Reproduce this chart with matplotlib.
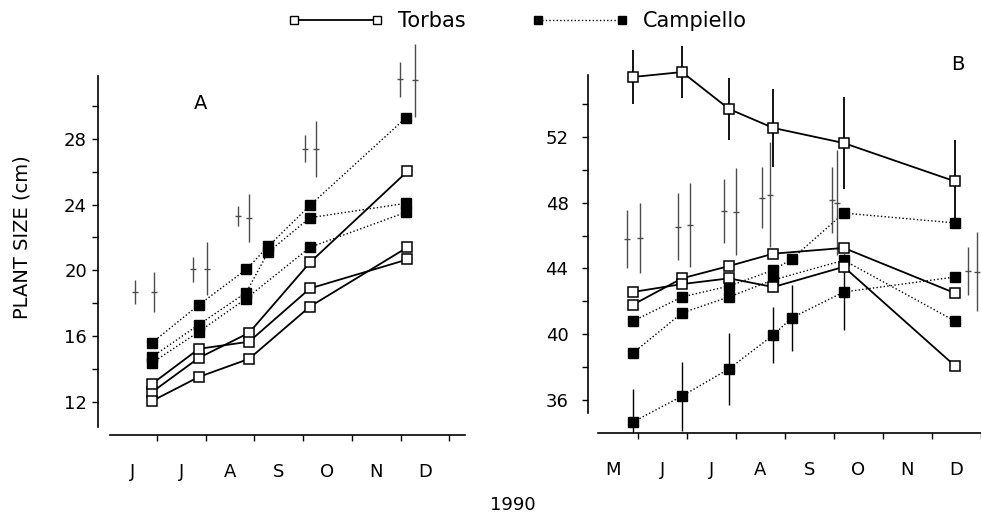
import numpy as np
import matplotlib
matplotlib.use('Agg')
import matplotlib.pyplot as plt
from matplotlib.lines import Line2D

# --- panel A (x in months, 7 = 1 July) ---
a_x5 = [6.9, 7.86, 8.89, 10.14, 12.14]
a_torbas = [
    [12.6, 14.68, 16.2, 20.48, 26.02],
    [13.1, 15.23, 15.66, 18.9, 20.66],
    [12.06, 13.52, 14.62, 17.8, 21.4],
]
a_x6 = [6.9, 7.86, 8.83, 9.28, 10.14, 12.1]
a_camp1 = [15.6, 17.9, 20.05, 21.45, 23.95, 29.25]
a_camp2 = [14.74, 16.7, 18.65, 21.1, 23.2, 24.07]
a_x5c = [6.9, 7.86, 8.83, 10.14, 12.1]
a_camp3 = [14.38, 16.27, 18.28, 21.4, 23.52]

a_bar_x = [6.55, 6.94, 7.74, 8.03, 8.66, 8.89, 10.04, 10.27, 11.99, 12.3]
a_bar_c = [18.7, 18.68, 20.05, 20.1, 23.28, 23.2, 27.4, 27.37, 31.6, 31.54]
a_bar_h = [0.73, 1.19, 0.73, 1.6, 0.61, 1.46, 0.82, 1.68, 1.07, 2.2]

# --- panel B (x in months, 6 = 1 June) ---
b_x = [5.9, 6.9, 7.86, 8.76, 10.2, 12.47]
b_torbas_top = [55.65, 55.95, 53.7, 52.55, 51.63, 49.3]
b_torbas_top_err = [1.65, 1.6, 1.9, 2.35, 2.8, 2.5]
b_torbas = [
    [41.8, 43.4, 44.15, 44.9, 45.25, 42.5],
    [42.57, 43.05, 43.4, 42.87, 44.1, 38.07],
]
b_x7 = [5.9, 6.9, 7.86, 8.76, 9.14, 10.2, 12.47]
b_camp_low = [34.66, 36.24, 37.9, 39.95, 41.0, 42.57, 43.48]
b_camp_low_err = [2.0, 2.1, 2.2, 1.7, 2.0, 2.3, 0.0]
b_camp2 = [38.86, 41.3, 42.27, 43.3, 44.5, 40.8]
b_camp3 = [40.8, 42.27, 42.93, 43.9, 44.58, 47.37, 46.77]

b_bar_x = [5.78, 6.04, 6.82, 7.06, 7.76, 8.0, 8.53, 8.69, 9.96, 10.06, 12.73, 12.92]
b_bar_c = [45.8, 45.85, 46.55, 46.65, 47.5, 47.45, 48.3, 48.5, 48.15, 48.0, 43.85, 43.8]
b_bar_h = [1.77, 2.13, 2.05, 2.55, 1.95, 2.65, 1.85, 3.2, 2.0, 3.2, 1.45, 2.4]

a_months = ['J', 'J', 'A', 'S', 'O', 'N', 'D']
b_months = ['M', 'J', 'J', 'A', 'S', 'O', 'N', 'D']

W, H = 981, 516
fig = plt.figure(figsize=(W / 100, H / 100), dpi=100)

solid = dict(color='black', lw=1.3, marker='s', ms=7, mfc='white', mec='black', mew=1.1)
dotted = dict(color='black', lw=1.0, ls=(0, (1, 1.6)), marker='s', ms=7, mfc='black', mec='black')
barstyle = dict(fmt='none', ecolor='0.3', elinewidth=1.0, capsize=0)


def style_axes(ax, xlo, ylo, yhi, months, first_month, last_tick):
    for s in ['top', 'right']:
        ax.spines[s].set_visible(False)
    ax.spines['left'].set_bounds(ylo, yhi)
    ax.spines['bottom'].set_bounds(xlo, ax.get_xlim()[1])
    ax.spines['left'].set_linewidth(1.2)
    ax.spines['bottom'].set_linewidth(1.2)
    ax.set_xticks(np.arange(first_month + 1, last_tick + 1))
    ax.set_xticklabels([])
    ax.set_xticks(np.arange(len(months)) + first_month + 0.5, minor=True)
    ax.set_xticklabels(months, minor=True, fontsize=13)
    ax.tick_params(axis='x', which='major', direction='out', length=4, width=1)
    ax.tick_params(axis='x', which='minor', length=0, pad=20)
    ax.tick_params(axis='y', which='both', direction='out', width=1, labelsize=13)
    ax.tick_params(axis='y', which='major', length=4)
    ax.tick_params(axis='y', which='minor', length=4)


# panel A
axA = fig.add_axes([98 / W, (H - 435) / H, (465 - 98) / W, (435 - 40) / H])
axA.set_xlim(5.79, 13.32)
axA.set_ylim(9.99, 34.0)
for s in a_torbas:
    axA.plot(a_x5, s, zorder=3, **solid)
axA.plot(a_x6, a_camp1, zorder=2, **dotted)
axA.plot(a_x6, a_camp2, zorder=2, **dotted)
axA.plot(a_x5c, a_camp3, zorder=2, **dotted)
axA.errorbar(a_bar_x, a_bar_c, yerr=a_bar_h, **barstyle)
axA.plot(a_bar_x, a_bar_c, '_', ms=4, color='0.3')
axA.set_yticks([12, 16, 20, 24, 28])
axA.set_yticks([14, 18, 22, 26, 30], minor=True)
style_axes(axA, 6.03, 10.5, 31.8, a_months, 6, 13)
axA.tick_params(axis='y', pad=4)
axA.text(7.75, 29.8, 'A', fontsize=14)

# panel B
axB = fig.add_axes([588 / W, (H - 433) / H, (W - 588) / W, (433 - 40) / H])
axB.set_xlim(4.98, 13.0)
axB.set_ylim(33.99, 57.9)
axB.errorbar(b_x, b_torbas_top, yerr=b_torbas_top_err, zorder=3, **solid)
for s in b_torbas:
    axB.plot(b_x, s, zorder=3, **solid)
axB.errorbar(b_x7, b_camp_low, yerr=b_camp_low_err, elinewidth=1, zorder=2, **dotted)
axB.plot(b_x, b_camp2, zorder=2, **dotted)
axB.plot(b_x7, b_camp3, zorder=2, **dotted)
axB.errorbar(b_bar_x, b_bar_c, yerr=b_bar_h, **barstyle)
axB.plot(b_bar_x, b_bar_c, '_', ms=4, color='0.3')
axB.set_yticks([36, 40, 44, 48, 52])
axB.set_yticks([38, 42, 46, 50, 54], minor=True)
style_axes(axB, 5.18, 35.2, 55.8, b_months, 5, 13)
axB.tick_params(axis='y', pad=10)
axB.text(12.4, 56.1, 'B', fontsize=14)

fig.text(22 / W, 1 - 237 / H, 'PLANT SIZE (cm)', rotation=90, ha='center', va='center', fontsize=14)
fig.text(513 / W, 1 - 505 / H, '1990', ha='center', va='center', fontsize=13)

handles = [
    Line2D([], [], color='black', lw=1.3, marker='s', ms=6, mfc='white', mec='black'),
    Line2D([], [], color='black', lw=1.0, ls=(0, (1, 1.6)), marker='s', ms=6, mfc='black', mec='black'),
]
fig.legend(handles, ['Torbas', 'Campiello'], loc='center', bbox_to_anchor=(517 / W, 1 - 21 / H),
           ncol=2, numpoints=2, frameon=False, fontsize=15, handlelength=4.6,
           handletextpad=0.7, columnspacing=3.2, borderpad=0, borderaxespad=0)

fig.savefig('out.png', dpi=100)
